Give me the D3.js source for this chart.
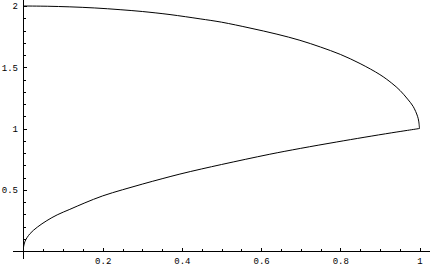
<!DOCTYPE html>
<html>
<head>
<meta charset="utf-8">
<script src="https://cdn.jsdelivr.net/npm/d3@7"></script>
<style>
  body { margin: 0; background: #fff; }
  svg { display: block; }
  .tick text { font-family: "Liberation Mono", "DejaVu Sans Mono", monospace; font-size: 9px; fill: #000; }
  .tick line { stroke: #000; }
</style>
</head>
<body>
<div id="chart"></div>
<script>
// lower branch
var lowerX = [0, 0.004, 0.016, 0.035, 0.059, 0.085, 0.117, 0.155, 0.2, 0.25, 0.3, 0.35, 0.395, 0.45, 0.5, 0.56, 0.622, 0.7, 0.791, 0.86, 0.93, 0.97, 1.0];
var lowerY = [0.03, 0.08, 0.14, 0.195, 0.248, 0.295, 0.34, 0.393, 0.45, 0.5, 0.546, 0.59, 0.628, 0.67, 0.706, 0.748, 0.79, 0.838, 0.89, 0.928, 0.965, 0.985, 1.0];
// upper branch, from (1,1) back to (0,2)
var upperX = [1.0, 0.998, 0.995, 0.984, 0.97, 0.951, 0.93, 0.9, 0.85, 0.8, 0.75, 0.698, 0.64, 0.572, 0.5, 0.446, 0.37, 0.3, 0.244, 0.18, 0.117, 0.06, 0];
var upperY = [1.0, 1.06, 1.1, 1.18, 1.24, 1.31, 1.37, 1.44, 1.53, 1.605, 1.665, 1.72, 1.77, 1.82, 1.868, 1.895, 1.93, 1.955, 1.97, 1.984, 1.993, 1.998, 2.0];

var xTicks = [0.2, 0.4, 0.6, 0.8, 1];
var xMinor = [0.05, 0.1, 0.15, 0.25, 0.3, 0.35, 0.45, 0.5, 0.55, 0.65, 0.7, 0.75, 0.85, 0.9, 0.95];
var yTicks = [0.5, 1, 1.5, 2];
var yMinor = [0.1, 0.2, 0.3, 0.4, 0.6, 0.7, 0.8, 0.9, 1.1, 1.2, 1.3, 1.4, 1.6, 1.7, 1.8, 1.9];

var width = 430, height = 266;

var x = d3.scaleLinear().domain([0, 1]).range([23.5, 419.5]);
var y = d3.scaleLinear().domain([0, 2]).range([251, 6]);

var svg = d3.select("#chart").append("svg")
    .attr("width", width)
    .attr("height", height)
    .style("shape-rendering", "crispEdges");

// axis lines
svg.append("line")
    .attr("x1", 13).attr("x2", width)
    .attr("y1", y(0)).attr("y2", y(0))
    .attr("stroke", "#000");
svg.append("line")
    .attr("x1", x(0)).attr("x2", x(0))
    .attr("y1", 0).attr("y2", 259)
    .attr("stroke", "#000");

// x ticks (inward)
svg.append("g")
    .attr("transform", "translate(0," + y(0) + ")")
    .call(d3.axisBottom(x).tickValues(xMinor).tickSize(-2).tickFormat(""))
    .call(function(g) { g.select(".domain").remove(); });
svg.append("g")
    .attr("transform", "translate(0," + y(0) + ")")
    .call(d3.axisBottom(x).tickValues(xTicks).tickSize(-3).tickPadding(7).tickFormat(function(d) { return String(d); }))
    .call(function(g) { g.select(".domain").remove(); });

// y ticks (inward)
svg.append("g")
    .attr("transform", "translate(" + x(0) + ",0)")
    .call(d3.axisLeft(y).tickValues(yMinor).tickSize(-2).tickFormat(""))
    .call(function(g) { g.select(".domain").remove(); });
svg.append("g")
    .attr("transform", "translate(" + x(0) + ",0)")
    .call(d3.axisLeft(y).tickValues(yTicks).tickSize(-3).tickPadding(5.5).tickFormat(function(d) { return String(d); }))
    .call(function(g) { g.select(".domain").remove(); });

svg.selectAll(".tick text").attr("fill", "#000");

var line = d3.line()
    .x(function(d) { return x(d[0]); })
    .y(function(d) { return y(d[1]); })
    .curve(d3.curveCatmullRom);

var lower = lowerX.map(function(v, i) { return [v, lowerY[i]]; });
var upper = upperX.map(function(v, i) { return [v, upperY[i]]; });

svg.selectAll("path.curve")
    .data([lower, upper])
    .enter().append("path")
    .attr("class", "curve")
    .attr("d", line)
    .attr("fill", "none")
    .attr("stroke", "#000")
    .attr("stroke-width", 1)
    .style("shape-rendering", "auto");
</script>
</body>
</html>
